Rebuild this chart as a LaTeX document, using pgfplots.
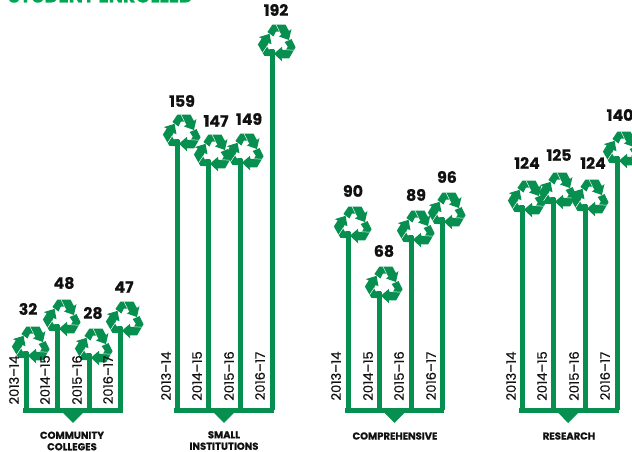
\documentclass[border=0pt]{standalone}
\usepackage{fontspec}
\setmainfont{Poppins}
\newfontfamily\pmed[FakeBold=0.5]{Poppins}
\newfontfamily\pblk[FakeBold=0.6]{Poppins Bold}
\usepackage{pgfplots}
\usepackage{pgfplotstable}
\pgfplotsset{compat=1.18}
\definecolor{stem}{RGB}{6,143,78}
\definecolor{titleg}{RGB}{0,166,81}
\definecolor{ink}{RGB}{17,17,17}
\pgfplotstableread{
x top
26 58.5
57 85.5
89 56.5
120 83.5
177 270.5
208 250.5
240 251.5
272 360.5
348 178.5
379 118.5
411 174.5
442 192.5
522 204.5
553 212.5
585 205.5
617 253.5
}\stems
\pgfplotstableread{
lx ly val
28 101.5 32
64 127.5 48
93 97.5 28
124 123.5 47
182 309.5 159
216 289.5 147
249 291.5 149
276 400.5 192
353 219.5 90
384 159.5 68
416 215.5 89
447 233.5 96
527 247.5 124
559 255.5 125
593 247.5 124
620 295.5 140
}\vals
\pgfplotstableread{
yx yy yr
14 30.5 2013–14
45 30.5 2014–15
77 30.5 2015–16
108 30.5 2016–17
166 34.5 2013–14
197 34.5 2014–15
229 34.5 2015–16
260 34.5 2016–17
336 34.5 2013–14
368 34.5 2014–15
399 34.5 2015–16
431 34.5 2016–17
511 34.5 2013–14
542 34.5 2014–15
574 34.5 2015–16
605 34.5 2016–17
}\years
\pgfdeclareplotmark{recycle}{%
  \pgftransformshift{\pgfqpoint{4.1pt}{5.6pt}}%
  \pgftransformscale{0.75}%
  \pgfsetfillcolor{stem}%
  \pgfsetstrokecolor{white}%
  \pgfsetlinewidth{0.35pt}%
  \foreach \a in {0,-120,-240}{%
    \pgfscope
    \pgftransformrotate{\a}%
    \pgfpathmoveto{\pgfqpoint{-10pt}{10.5pt}}%
    \pgfpathlineto{\pgfqpoint{-5pt}{18pt}}%
    \pgfpathlineto{\pgfqpoint{8pt}{18pt}}%
    \pgfpathlineto{\pgfqpoint{11.5pt}{11.5pt}}%
    \pgfpathlineto{\pgfqpoint{14pt}{13.5pt}}%
    \pgfpathlineto{\pgfqpoint{11.5pt}{2.5pt}}%
    \pgfpathlineto{\pgfqpoint{1.5pt}{6pt}}%
    \pgfpathlineto{\pgfqpoint{4pt}{8pt}}%
    \pgfpathlineto{\pgfqpoint{2pt}{11pt}}%
    \pgfpathlineto{\pgfqpoint{-1.5pt}{11pt}}%
    \pgfpathlineto{\pgfqpoint{-4pt}{6pt}}%
    \pgfpathclose
    \pgfusepathqfill
    \pgfpathmoveto{\pgfqpoint{-1.5pt}{18pt}}%
    \pgfpathlineto{\pgfqpoint{2pt}{11pt}}%
    \pgfusepathqstroke
    \endpgfscope
  }%
}
\begin{document}
\begin{tikzpicture}
\path[use as bounding box,clip] (0,0) rectangle (474pt,339pt);
\begin{axis}[
  at={(0,0)},anchor=south west,
  scale only axis,width=474pt,height=339pt,
  xmin=0,xmax=632,ymin=-41.5,ymax=410.5,
  hide axis,clip=false]
% stems
\addplot[ycomb,stem,line width=3.75pt,no markers] table[x=x,y=top]{\stems};
% base bars
\addplot[stem,line width=3.75pt,no markers] coordinates {(23,0)(123,0)};
\addplot[stem,line width=3.75pt,no markers] coordinates {(174,0)(274,0)};
\addplot[stem,line width=3.75pt,no markers] coordinates {(345,0)(444,0)};
\addplot[stem,line width=3.75pt,no markers] coordinates {(519,0)(619,0)};
% pointers
\addplot[fill=stem,draw=none,no markers] coordinates {(62.5,-2)(83.5,-2)(73,-12.5)} --cycle;
\addplot[fill=stem,draw=none,no markers] coordinates {(213.5,-2)(234.5,-2)(224,-12.5)} --cycle;
\addplot[fill=stem,draw=none,no markers] coordinates {(384,-2)(405,-2)(394.5,-12.5)} --cycle;
\addplot[fill=stem,draw=none,no markers] coordinates {(558,-2)(578.5,-2)(568,-12.5)} --cycle;
% recycling marks
\addplot[only marks,mark=recycle] table[x=x,y=top]{\stems};
% values
\addplot[only marks,mark=none,point meta=explicit symbolic,
  nodes near coords,
  nodes near coords style={anchor=center,inner sep=0pt,text=ink,font=\fontsize{11.8}{13}\pblk}]
  table[x=lx,y=ly,meta=val]{\vals};
% years
\addplot[only marks,mark=none,point meta=explicit symbolic,
  nodes near coords,
  nodes near coords style={anchor=center,rotate=90,inner sep=0pt,text=ink,font=\fontsize{9.8}{10}\pmed}]
  table[x=yx,y=yy,meta=yr]{\years};
\node[anchor=center,text=ink,align=center,font=\fontsize{7.5}{8.6}\pblk] at (axis cs:72,-30.5) {COMMUNITY\\COLLEGES};
\node[anchor=center,text=ink,align=center,font=\fontsize{7.5}{8.6}\pblk] at (axis cs:224,-30) {SMALL\\INSTITUTIONS};
\node[anchor=center,text=ink,font=\fontsize{7.5}{8.6}\pblk] at (axis cs:395,-25.5) {COMPREHENSIVE};
\node[anchor=center,text=ink,font=\fontsize{7.5}{8.6}\pblk] at (axis cs:569,-25.5) {RESEARCH};
\node[anchor=base,text=titleg,inner sep=0pt,font=\fontsize{14.3}{16}\pblk] at (axis cs:100.5,408) {STUDENT ENROLLED};
\end{axis}
\end{tikzpicture}
\end{document}
